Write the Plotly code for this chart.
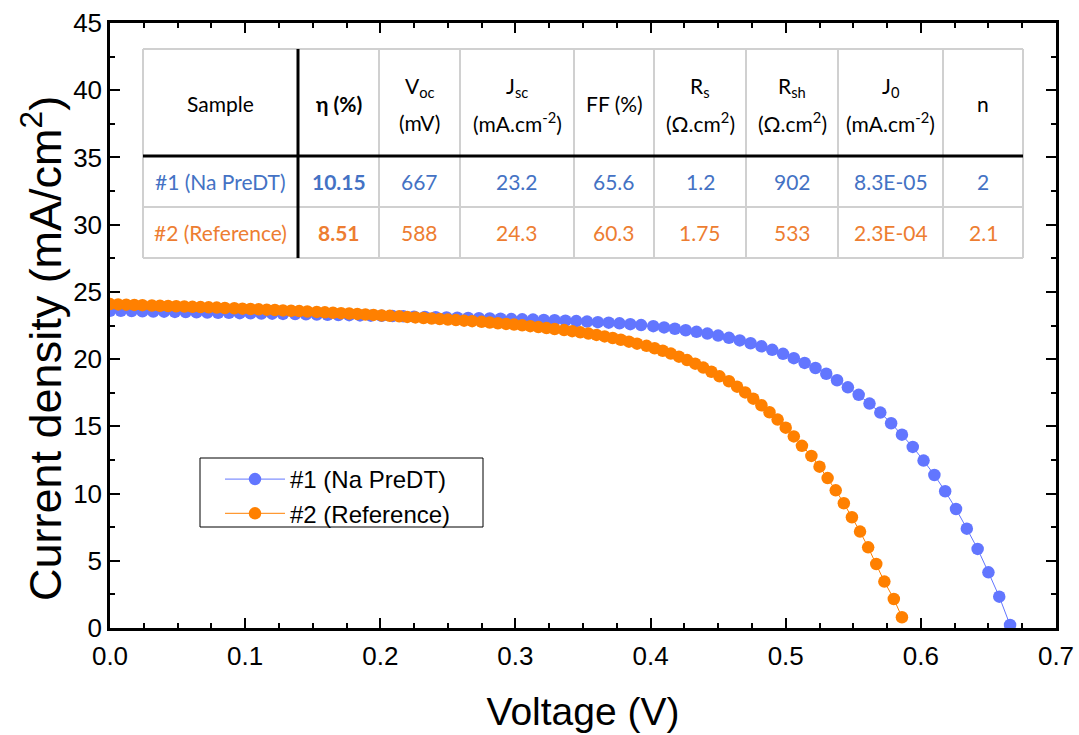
import plotly.graph_objects as go

# ---------------- data ----------------
v1 = [0.000, 0.008, 0.016, 0.024, 0.032, 0.040, 0.048, 0.056, 0.064, 0.072,
      0.080, 0.088, 0.096, 0.104, 0.112, 0.120, 0.128, 0.137, 0.145, 0.153,
      0.161, 0.169, 0.177, 0.185, 0.193, 0.201, 0.209, 0.217, 0.225, 0.233,
      0.241, 0.249, 0.257, 0.265, 0.273, 0.281, 0.289, 0.297, 0.305, 0.313,
      0.321, 0.329, 0.337, 0.345, 0.353, 0.361, 0.369, 0.377, 0.385, 0.393,
      0.402, 0.410, 0.418, 0.426, 0.434, 0.442, 0.450, 0.458, 0.466, 0.474,
      0.482, 0.490, 0.498, 0.506, 0.514, 0.522, 0.530, 0.538, 0.546, 0.554,
      0.562, 0.570, 0.578, 0.586, 0.594, 0.602, 0.610, 0.618, 0.626, 0.634,
      0.642, 0.650, 0.658, 0.666]
j1 = [23.60, 23.59, 23.57, 23.56, 23.54, 23.53, 23.51, 23.50, 23.48, 23.47,
      23.45, 23.44, 23.42, 23.41, 23.39, 23.38, 23.36, 23.35, 23.33, 23.32,
      23.30, 23.28, 23.27, 23.25, 23.23, 23.22, 23.20, 23.18, 23.16, 23.14,
      23.12, 23.10, 23.08, 23.06, 23.04, 23.02, 23.00, 22.98, 22.96, 22.94,
      22.91, 22.89, 22.86, 22.83, 22.79, 22.75, 22.71, 22.66, 22.60, 22.53,
      22.45, 22.36, 22.26, 22.15, 22.03, 21.90, 21.75, 21.58, 21.39, 21.18,
      20.95, 20.69, 20.39, 20.07, 19.72, 19.34, 18.91, 18.43, 17.90, 17.34,
      16.69, 16.02, 15.23, 14.38, 13.47, 12.45, 11.38, 10.17, 8.85, 7.39,
      5.88, 4.14, 2.33, 0.22]

v2 = [0.000, 0.006, 0.012, 0.018, 0.024, 0.031, 0.037, 0.043, 0.049, 0.055,
      0.061, 0.067, 0.073, 0.079, 0.085, 0.092, 0.098, 0.104, 0.110, 0.116,
      0.122, 0.128, 0.134, 0.140, 0.146, 0.153, 0.159, 0.165, 0.171, 0.177,
      0.183, 0.189, 0.195, 0.201, 0.207, 0.214, 0.220, 0.226, 0.232, 0.238,
      0.244, 0.250, 0.256, 0.262, 0.268, 0.275, 0.281, 0.287, 0.293, 0.299,
      0.305, 0.311, 0.317, 0.323, 0.329, 0.336, 0.342, 0.348, 0.354, 0.360,
      0.366, 0.372, 0.378, 0.384, 0.390, 0.397, 0.403, 0.409, 0.415, 0.421,
      0.427, 0.433, 0.439, 0.445, 0.451, 0.458, 0.464, 0.470, 0.476, 0.482,
      0.488, 0.494, 0.500, 0.506, 0.512, 0.519, 0.525, 0.531, 0.537, 0.543,
      0.549, 0.555, 0.561, 0.567, 0.573, 0.580, 0.586]
j2 = [24.09, 24.07, 24.05, 24.03, 24.01, 23.99, 23.97, 23.95, 23.93, 23.91,
      23.89, 23.87, 23.85, 23.83, 23.80, 23.78, 23.75, 23.73, 23.70, 23.68,
      23.65, 23.62, 23.60, 23.57, 23.54, 23.51, 23.48, 23.45, 23.42, 23.39,
      23.36, 23.32, 23.29, 23.25, 23.22, 23.18, 23.14, 23.10, 23.06, 23.02,
      22.98, 22.94, 22.90, 22.86, 22.82, 22.77, 22.72, 22.67, 22.62, 22.57,
      22.51, 22.45, 22.38, 22.31, 22.24, 22.16, 22.08, 21.99, 21.90, 21.80,
      21.69, 21.57, 21.44, 21.30, 21.15, 20.99, 20.81, 20.62, 20.41, 20.18,
      19.93, 19.66, 19.37, 19.06, 18.72, 18.35, 17.95, 17.52, 17.06, 16.57,
      16.05, 15.50, 14.90, 14.25, 13.55, 12.80, 12.00, 11.15, 10.24, 9.28,
      8.24, 7.17, 6.00, 4.76, 3.45, 2.16, 0.80]

names = ["#1 (Na PreDT)", "#2 (Reference)"]
x_title = "Voltage (V)"
y_title = "Current density (mA/cm<sup>2</sup>)"

# table contents
tbl_header_single = {0: "Sample", 1: "<b>η (%)</b>", 4: "FF (%)", 8: "n"}
tbl_header_two = {2: ("V<sub>oc</sub>", "(mV)"),
                  3: ("J<sub>sc</sub>", "(mA.cm<sup>-2</sup>)"),
                  5: ("R<sub>s</sub>", "(Ω.cm<sup>2</sup>)"),
                  6: ("R<sub>sh</sub>", "(Ω.cm<sup>2</sup>)"),
                  7: ("J<sub>0</sub>", "(mA.cm<sup>-2</sup>)")}
samples = ["#1 (Na PreDT)", "#2 (Reference)"]
eta = ["10.15", "8.51"]
voc = ["667", "588"]
jsc = ["23.2", "24.3"]
ff = ["65.6", "60.3"]
rs = ["1.2", "1.75"]
rsh = ["902", "533"]
j0 = ["8.3E-05", "2.3E-04"]
n_ideal = ["2", "2.1"]

# ---------------- styling ----------------
BLUE = "#6276FF"
ORANGE = "#FF8000"
TXT_BLUE = "#4472C4"
TXT_ORANGE = "#ED7D31"
AX_FONT = "Liberation Sans, Arial, sans-serif"
TBL_FONT = "Lato, Carlito, Calibri, sans-serif"

W, H = 1079, 735
L, R, T, B = 110, 1056, 23, 628


def px_x(p):
    return (p - L) / (R - L)


def px_y(p):
    return (B - p) / (B - T)


fig = go.Figure()
for v, j, nm, c in [(v1, j1, names[0], BLUE), (v2, j2, names[1], ORANGE)]:
    fig.add_trace(go.Scatter(
        x=v, y=j, name=nm, mode="lines+markers",
        line=dict(color=c, width=1),
        marker=dict(color=c, size=12.5, line=dict(width=0)),
    ))

# ---------------- table ----------------
cols = [143, 298, 379, 460, 574, 654, 746, 838, 943, 1023]
rows = [49, 156, 207, 258]
GRAY = "#D0D0D0"
shapes = []
for yy in [rows[0], rows[2], rows[3]]:
    shapes.append(dict(type="line", xref="paper", yref="paper",
                       x0=px_x(cols[0]), x1=px_x(cols[-1]), y0=px_y(yy), y1=px_y(yy),
                       line=dict(color=GRAY, width=2)))
for xx in cols:
    if xx == cols[1]:
        continue
    shapes.append(dict(type="line", xref="paper", yref="paper",
                       x0=px_x(xx), x1=px_x(xx), y0=px_y(rows[0]), y1=px_y(rows[-1]),
                       line=dict(color=GRAY, width=2)))
shapes.append(dict(type="line", xref="paper", yref="paper",
                   x0=px_x(cols[1]), x1=px_x(cols[1]), y0=px_y(rows[0]), y1=px_y(rows[-1]),
                   line=dict(color="black", width=3)))
shapes.append(dict(type="line", xref="paper", yref="paper",
                   x0=px_x(cols[0]), x1=px_x(cols[-1]), y0=px_y(rows[1]), y1=px_y(rows[1]),
                   line=dict(color="black", width=3)))
# legend frame
shapes.append(dict(type="rect", xref="paper", yref="paper",
                   x0=px_x(200), x1=px_x(483), y0=px_y(458), y1=px_y(527),
                   line=dict(color="black", width=1), fillcolor="rgba(0,0,0,0)"))

annotations = []
FS = 21


def cell_text(ci, py, text, color="black", size=FS):
    cx = (cols[ci] + cols[ci + 1]) / 2
    annotations.append(dict(x=px_x(cx), y=px_y(py), xref="paper", yref="paper",
                            text=text, showarrow=False, xanchor="center", yanchor="middle",
                            font=dict(family=TBL_FONT, size=size, color=color)))


for ci, t in tbl_header_single.items():
    cell_text(ci, 103, t)
for ci, (t1, t2) in tbl_header_two.items():
    cell_text(ci, 87, t1)
    cell_text(ci, 122, t2)

row_y = [181, 232]
row_col = [TXT_BLUE, TXT_ORANGE]
for r in range(2):
    vals = [samples[r], "<b>" + eta[r] + "</b>", voc[r], jsc[r], ff[r], rs[r], rsh[r], j0[r], n_ideal[r]]
    for ci, t in enumerate(vals):
        cell_text(ci, row_y[r], t, color=row_col[r])

# y axis title as rotated annotation
annotations.append(dict(x=px_x(42), y=px_y(349), xref="paper", yref="paper",
                        text=y_title, textangle=-90, showarrow=False,
                        xanchor="center", yanchor="middle",
                        font=dict(family=AX_FONT, size=45, color="black")))

axis_common = dict(
    showline=True, linecolor="black", linewidth=2.5, mirror="allticks",
    ticks="inside", ticklen=10, tickwidth=2, tickcolor="black",
    showgrid=False, zeroline=False, automargin=False,
    tickfont=dict(family=AX_FONT, size=26, color="black"),
)

fig.update_layout(
    width=W, height=H,
    margin=dict(l=L, r=W - R, t=T, b=H - B),
    paper_bgcolor="white", plot_bgcolor="white",
    xaxis=dict(axis_common, range=[0, 0.7], dtick=0.1, tick0=0, tickformat=".1f",
               ticklabelstandoff=3,
               minor=dict(dtick=0.025, ticks="inside", ticklen=5, tickwidth=1.5, tickcolor="black"),
               title=dict(text=x_title, font=dict(family=AX_FONT, size=39, color="black"),
                          standoff=28)),
    yaxis=dict(axis_common, range=[0, 45], dtick=5, tick0=0,
               minor=dict(dtick=2.5, ticks="inside", ticklen=5, tickwidth=1.5, tickcolor="black")),
    legend=dict(x=px_x(220), y=px_y(457), xanchor="left", yanchor="top",
                bgcolor="rgba(0,0,0,0)", borderwidth=0,
                font=dict(family=AX_FONT, size=24, color="black"),
                itemwidth=60, tracegroupgap=0),
    shapes=shapes,
    annotations=annotations,
    showlegend=True,
)

fig.write_html("out.html")
